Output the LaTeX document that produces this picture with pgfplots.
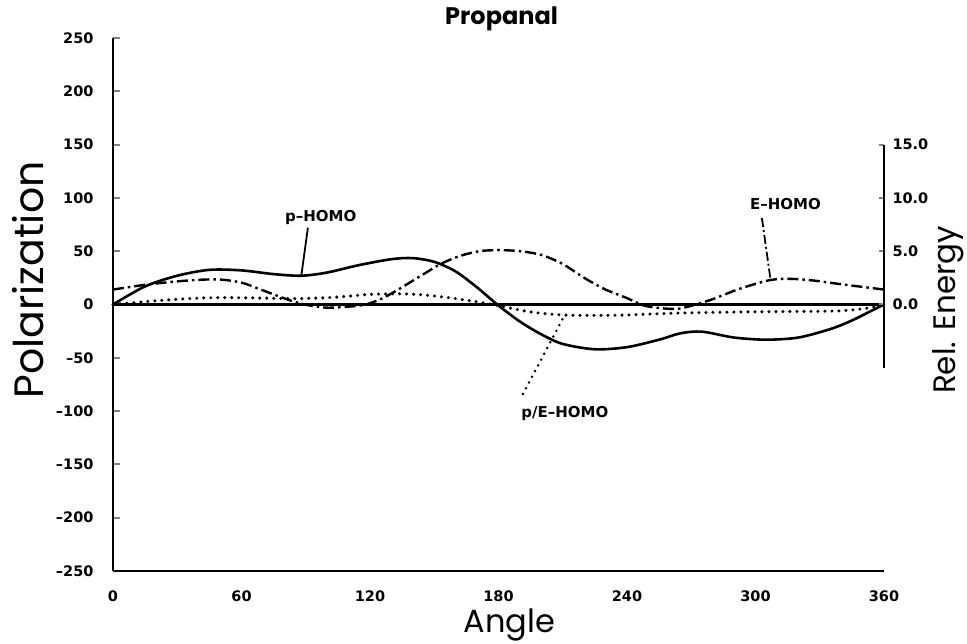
\documentclass[border=0pt]{standalone}
\usepackage{fontspec}
\setmainfont{Poppins}
\newfontfamily\tickfont{DejaVu Sans}
\usepackage{pgfplots}
\pgfplotsset{compat=1.18}

\newcommand\ticksize{\tickfont\bfseries\fontsize{14.5}{14.5}\selectfont}
\newcommand\annosize{\tickfont\bfseries\fontsize{15}{15}\selectfont}

\pgfplotsset{
  common/.style={
    at={(113pt,72pt)}, anchor=south west,
    width=771pt, height=533pt, scale only axis,
    xmin=0, xmax=360, clip=false,
    tick align=inside,
    tick label style={font=\ticksize},
  },
}

\begin{document}
\begin{tikzpicture}[x=1pt,y=1pt]
\useasboundingbox (0,0) rectangle (967,643);

% left axis: polarization
\begin{axis}[common,
  ymin=-250, ymax=250,
  axis x line*=bottom, axis y line*=left,
  axis line style={line width=2.5pt},
  xtick={0,60,...,360},
  xticklabels={0,60,120,180,240,300,360},
  xtick style={draw=none},
  xticklabel style={yshift=-16pt},
  ytick={-250,-200,...,250},
  yticklabels={–250,–200,–150,–100,–50,0,50,100,150,200,250},
  yticklabel style={xshift=-16pt},
  major tick length=7pt,
  ytick style={line width=2pt},
  xlabel={Angle},
  xlabel style={at={(axis description cs:0.514,-0.101)}, anchor=center,
    font=\fontsize{32}{32}\selectfont},
  ylabel={Polarization},
  ylabel style={at={(axis description cs:-0.110,0.546)}, anchor=center,
    font=\fontsize{41}{41}\selectfont},
  title={Propanal},
  title style={at={(axis description cs:0.504,1.024)}, anchor=center,
    font=\bfseries\fontsize{24}{24}\selectfont},
]
% zero line
\addplot[line width=2.2pt] coordinates {(0,0) (360,0)};

% p-HOMO
\addplot[smooth, line width=2.6pt] coordinates {
(0,0) (15,17) (30,27) (45,32.5) (60,32) (75,28.5) (88,27) (100,30)
(115,37) (130,42.5) (140,43.5) (150,40) (160,31) (170,16) (180,-1)
(190,-16) (200,-28) (210,-37) (225,-42) (240,-40) (255,-33) (265,-27)
(275,-25.5) (290,-31) (305,-33) (320,-31) (335,-23) (345,-15) (355,-5) (360,0)};

% p/E-HOMO
\addplot[smooth, line width=3.4pt, line cap=round, dash pattern=on 0pt off 7pt] coordinates {
(0,0) (17,3) (35,5.5) (50,6.5) (70,6) (87,5.5) (105,7) (120,9.5) (135,10)
(145,9) (156,6.6) (170,2.5) (180,-1) (195,-7) (212,-10) (237,-10) (250,-9)
(265,-8) (293,-7) (320,-6.5) (339,-6) (352,-3.5) (360,0)};

% annotations
\node[font=\annosize] at (axis cs:97,82) {p–HOMO};
\draw[line width=1.8pt] (axis cs:91,72) -- (axis cs:88,28);
\node[font=\annosize] at (axis cs:211,-102) {p/E–HOMO};
\draw[line width=2.8pt, line cap=round, dash pattern=on 0pt off 6.5pt]
  (axis cs:191.4,-84) -- (axis cs:211,-9.5);
\node[font=\annosize] at (axis cs:314,94) {E–HOMO};
\draw[line width=1.8pt, dash pattern=on 9pt off 3pt on 2pt off 3pt]
  (axis cs:303,81) -- (axis cs:307,23.5);
\end{axis}

% right axis: relative energy
\begin{axis}[common,
  ymin=-25, ymax=25,
  axis x line=none, axis y line*=right,
  y axis line style={draw=none},
  ytick={0,5,10,15},
  yticklabels={0.0,5.0,10.0,15.0},
  yticklabel style={anchor=west, xshift=5pt},
  major tick length=5pt,
  ytick style={line width=2pt},
  ylabel={Rel. Energy},
  ylabel style={at={(axis description cs:1.083,0.49)}, anchor=center,
    font=\fontsize{31}{31}\selectfont},
]
\draw[line width=2.5pt] (axis cs:360,-6) -- (axis cs:360,15);

% E-HOMO
\addplot[smooth, line width=2.4pt, dash pattern=on 11pt off 4pt on 2.5pt off 4pt] coordinates {
(0,1.4) (17,1.9) (35,2.25) (49,2.35) (60,2.05) (69,1.4) (77,0.8) (84,0.3)
(92,-0.1) (100,-0.3) (110,-0.2) (118,0.0) (126,0.6) (134,1.5) (143,2.6)
(153,3.8) (162,4.55) (171,5.0) (180,5.1) (190,5.0) (200,4.65) (210,3.8)
(220,2.5) (230,1.4) (240,0.6) (248,-0.1) (256,-0.35) (264,-0.4) (272,0.0)
(280,0.5) (293,1.5) (307,2.3) (317,2.4) (327,2.25) (340,1.9) (360,1.4)};
\end{axis}
\end{tikzpicture}
\end{document}
